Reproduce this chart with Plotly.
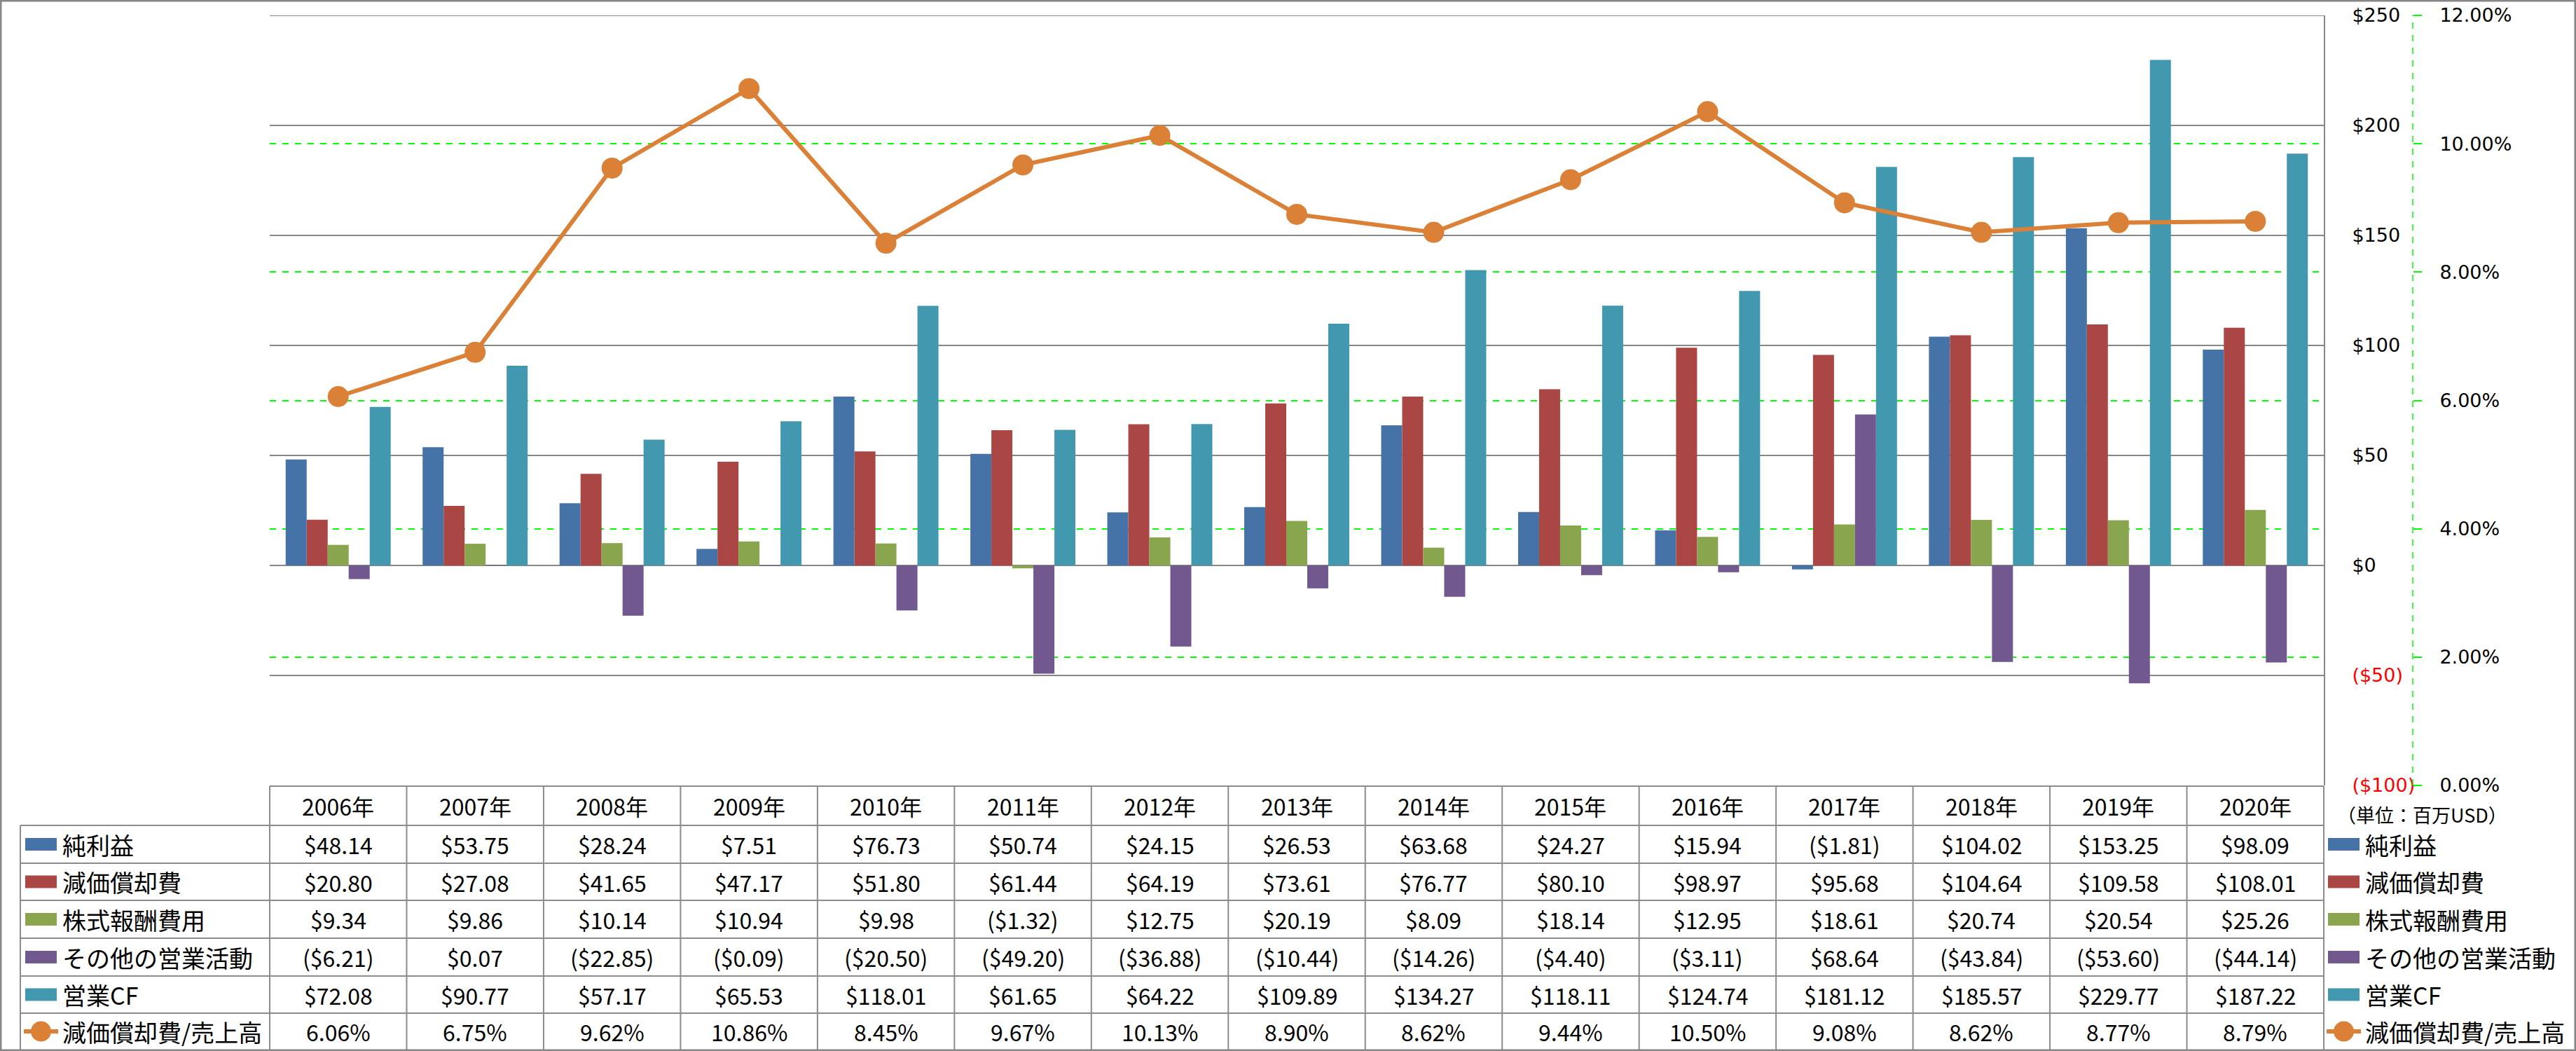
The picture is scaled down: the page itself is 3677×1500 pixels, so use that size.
import plotly.graph_objects as go

W, H = 3677, 1500

years = ["2006年", "2007年", "2008年", "2009年", "2010年", "2011年", "2012年", "2013年",
         "2014年", "2015年", "2016年", "2017年", "2018年", "2019年", "2020年"]
net_income = [48.14, 53.75, 28.24, 7.51, 76.73, 50.74, 24.15, 26.53, 63.68, 24.27, 15.94, -1.81, 104.02, 153.25, 98.09]
depreciation = [20.80, 27.08, 41.65, 47.17, 51.80, 61.44, 64.19, 73.61, 76.77, 80.10, 98.97, 95.68, 104.64, 109.58, 108.01]
stock_comp = [9.34, 9.86, 10.14, 10.94, 9.98, -1.32, 12.75, 20.19, 8.09, 18.14, 12.95, 18.61, 20.74, 20.54, 25.26]
other_ops = [-6.21, 0.07, -22.85, -0.09, -20.50, -49.20, -36.88, -10.44, -14.26, -4.40, -3.11, 68.64, -43.84, -53.60, -44.14]
operating_cf = [72.08, 90.77, 57.17, 65.53, 118.01, 61.65, 64.22, 109.89, 134.27, 118.11, 124.74, 181.12, 185.57, 229.77, 187.22]
dep_ratio = [6.06, 6.75, 9.62, 10.86, 8.45, 9.67, 10.13, 8.90, 8.62, 9.44, 10.50, 9.08, 8.62, 8.77, 8.79]

bar_names = ["純利益", "減価償却費", "株式報酬費用", "その他の営業活動", "営業CF"]
line_name = "減価償却費/売上高"
bar_series = [net_income, depreciation, stock_comp, other_ops, operating_cf]
bar_colors = ["#4572A7", "#AA4643", "#89A54E", "#71588F", "#4198AF"]
line_color = "#DA8137"

left_ticks = [-100, -50, 0, 50, 100, 150, 200, 250]
unit_note = "（単位：百万USD）"

# layout in pixels
PL, PR, PT, PB = 385, 3317, 22, 1121
AX2 = 3444
GRID = "#878787"
TFONT = "Noto Sans CJK JP"


def px(x):
    return x / W


def py(y):
    return 1 - y / H


def money(v):
    return f"(${abs(v):.2f})" if v < 0 else f"${v:.2f}"


fig = go.Figure()
for name, vals, col in zip(bar_names, bar_series, bar_colors):
    fig.add_trace(go.Bar(x=years, y=vals, name=name, marker=dict(color=col, line=dict(width=0)),
                         yaxis="y"))
fig.add_trace(go.Scatter(x=years, y=[v / 100 for v in dep_ratio], name=line_name, mode="lines+markers",
                         line=dict(color=line_color, width=6),
                         marker=dict(size=30, color=line_color), yaxis="y2"))

ticktext = []
for t in left_ticks:
    if t < 0:
        ticktext.append(f"<span style='color:#FF0000'>(${abs(t)})</span>")
    else:
        ticktext.append(f"${t}")

fig.update_layout(
    width=W, height=H, margin=dict(l=0, r=0, t=0, b=0, pad=0, autoexpand=False), autosize=False,
    paper_bgcolor="white", plot_bgcolor="white",
    showlegend=False, barmode="group", bargap=0.233, bargroupgap=0,
    font=dict(family="DejaVu Sans", size=27, color="black"),
    xaxis=dict(domain=[px(PL), px(PR)], type="category", range=[-0.5, 14.5], automargin=False,
               showticklabels=False, showgrid=False, zeroline=False, showline=False, ticks=""),
    yaxis=dict(domain=[py(PB), py(PT)], range=[-100, 250], tickvals=left_ticks, ticktext=ticktext,
               side="right", showline=True, linecolor=GRID, linewidth=2, automargin=False,
               showgrid=True, gridcolor=GRID, gridwidth=2, zeroline=False, ticks="",
               ticklabelstandoff=33, tickfont=dict(family="DejaVu Sans", size=27, color="black")),
    yaxis2=dict(overlaying="y", side="right", anchor="free", position=px(AX2), automargin=False,
                range=[0, 0.12], dtick=0.02, tick0=0, tickformat=".2%",
                showgrid=True, gridcolor="#00FF00", griddash="dash", gridwidth=1.5,
                showline=False, zeroline=False, ticks="outside", ticklen=12, tickwidth=1.5,
                tickcolor="#00FF00", ticklabelstandoff=20,
                tickfont=dict(family="DejaVu Sans", size=27, color="black")),
)

shapes = []
# top gridline ($250) in case the edge gridline is dropped
shapes.append(dict(type="line", xref="paper", yref="y", x0=px(PL), x1=px(PR), y0=left_ticks[-1],
                   y1=left_ticks[-1], line=dict(color=GRID, width=2), layer="below"))
# dashed secondary axis line
shapes.append(dict(type="line", xref="paper", yref="paper", x0=px(AX2), x1=px(AX2), y0=py(PB), y1=py(PT),
                   line=dict(color="#00FF00", width=1.5, dash="dash")))

# table geometry
col_w = (PR - PL) / len(years)
row_lines = [1122, 1178, 1232, 1285, 1339, 1393, 1446, 1498]
row_centers = [(row_lines[i] + row_lines[i + 1]) / 2 for i in range(len(row_lines) - 1)]
LEFT_T = 29
lc = dict(color="#8C8C8C", width=2)
shapes.append(dict(type="line", xref="paper", yref="paper", x0=px(PL), x1=px(PR),
                   y0=py(row_lines[0]), y1=py(row_lines[0]), line=lc))
for yl in row_lines[1:-1]:
    shapes.append(dict(type="line", xref="paper", yref="paper", x0=px(LEFT_T), x1=px(PR),
                       y0=py(yl), y1=py(yl), line=lc))
for k in range(len(years) + 1):
    xv = PL + col_w * k
    shapes.append(dict(type="line", xref="paper", yref="paper", x0=px(xv), x1=px(xv),
                       y0=py(row_lines[0]), y1=py(row_lines[-1]), line=lc))
shapes.append(dict(type="line", xref="paper", yref="paper", x0=px(LEFT_T), x1=px(LEFT_T),
                   y0=py(row_lines[1]), y1=py(row_lines[-1]), line=lc))

annotations = []
for k, yr in enumerate(years):
    cx = PL + col_w * (k + 0.5)
    annotations.append(dict(x=px(cx), y=py(row_centers[0]), xref="paper", yref="paper", text=yr,
                            showarrow=False, xanchor="center", yanchor="middle",
                            font=dict(family=TFONT, size=32, color="black")))
    for r, vals in enumerate(bar_series):
        annotations.append(dict(x=px(cx), y=py(row_centers[r + 1]), xref="paper", yref="paper",
                                text=money(vals[k]), showarrow=False, xanchor="center", yanchor="middle",
                                font=dict(family=TFONT, size=32, color="black")))
    annotations.append(dict(x=px(cx), y=py(row_centers[6]), xref="paper", yref="paper",
                            text=f"{dep_ratio[k]:.2f}%", showarrow=False, xanchor="center", yanchor="middle",
                            font=dict(family=TFONT, size=32, color="black")))

# legends (left inside table, right outside)
all_names = bar_names + [line_name]
for key_x0, text_x in [(36, 87), (3323, 3374)]:
    for r, nm in enumerate(all_names):
        cy = row_centers[r + 1]
        if r < 5:
            shapes.append(dict(type="rect", xref="paper", yref="paper", x0=px(key_x0), x1=px(key_x0 + 45),
                               y0=py(cy + 9), y1=py(cy - 9), fillcolor=bar_colors[r], line=dict(width=0)))
        else:
            shapes.append(dict(type="line", xref="paper", yref="paper", x0=px(key_x0 - 2), x1=px(key_x0 + 47),
                               y0=py(cy), y1=py(cy), line=dict(color=line_color, width=6)))
            shapes.append(dict(type="circle", xref="paper", yref="paper", x0=px(key_x0 + 8), x1=px(key_x0 + 37),
                               y0=py(cy + 14.5), y1=py(cy - 14.5), fillcolor=line_color, line=dict(width=0)))
        annotations.append(dict(x=px(text_x), y=py(cy), xref="paper", yref="paper", text=nm,
                                showarrow=False, xanchor="left", yanchor="middle",
                                font=dict(family=TFONT, size=34, color="black")))

annotations.append(dict(x=px(3334), y=py(1162), xref="paper", yref="paper", text=unit_note,
                        showarrow=False, xanchor="left", yanchor="middle",
                        font=dict(family=TFONT, size=27, color="black")))

# outer border
shapes.append(dict(type="rect", xref="paper", yref="paper", x0=px(1), x1=px(W - 1), y0=py(H - 1), y1=py(1),
                   line=dict(color="#878787", width=3)))

fig.update_layout(shapes=shapes, annotations=annotations)

post = (
    "var de=document.documentElement, b=document.body;"
    "de.style.margin='0';de.style.padding='0';de.style.overflow='hidden';"
    "b.style.margin='0';b.style.padding='0';b.style.overflow='hidden';"
)
fig.write_html("out.html", config={"displayModeBar": False}, post_script=post)
